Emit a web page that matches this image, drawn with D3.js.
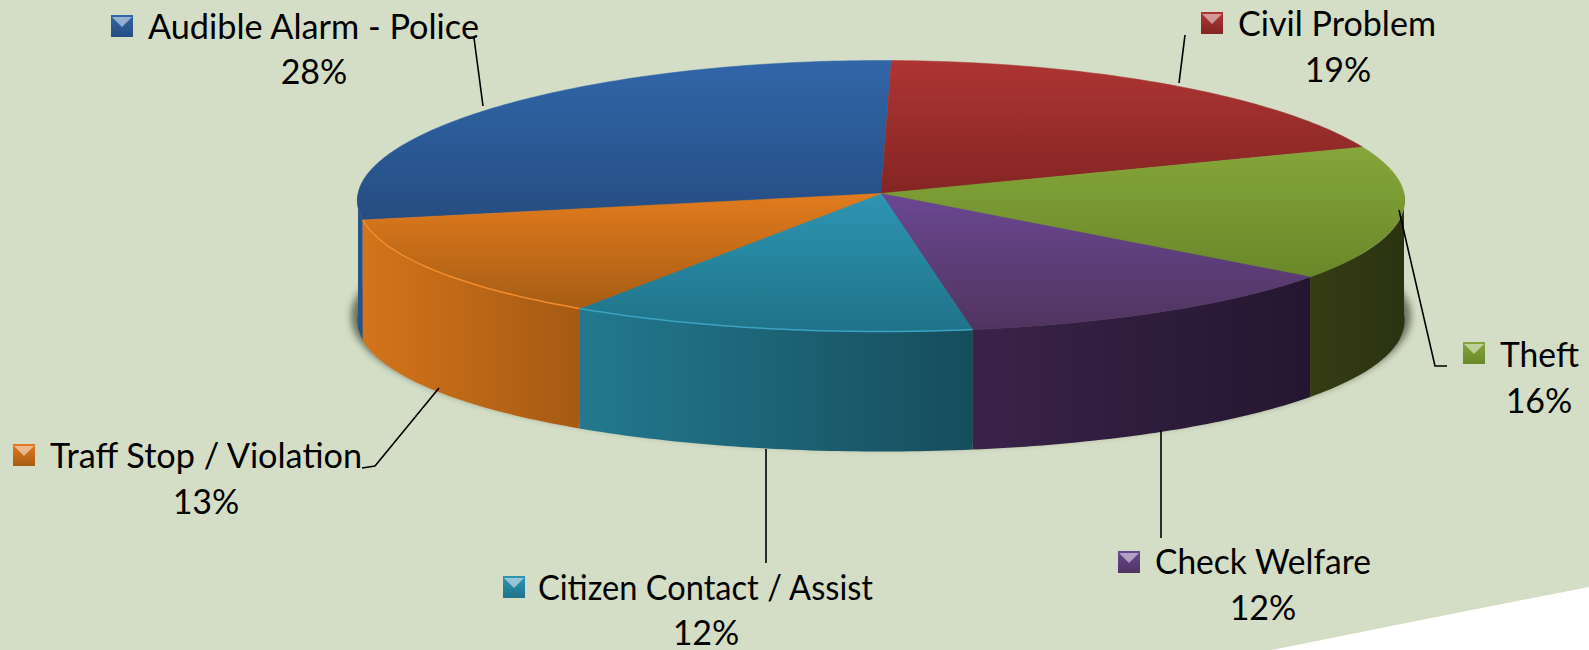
<!DOCTYPE html>
<html>
<head>
<meta charset="utf-8">
<script src="https://cdn.jsdelivr.net/npm/d3@7"></script>
<style>
  html, body { margin: 0; padding: 0; background: #d4ddc5; }
  svg { display: block; }
  text { font-family: Lato, sans-serif; font-size: 34px; fill: #000; }
</style>
</head>
<body>
<svg id="chart" width="1589" height="650"></svg>
<script>
const categories = ['Audible Alarm - Police', 'Civil Problem', 'Theft', 'Check Welfare', 'Citizen Contact / Assist', 'Traff Stop / Violation'];
// unrounded estimates, the labels show them rounded
const values = [28.4, 19, 16, 12, 12, 12.6];

const topColors = [['#3166a9', '#254d82'], ['#ad3533', '#842523'], ['#85a63a', '#6a8829'], ['#6b4792', '#50345f'], ['#2e95b2', '#1f7389'], ['#e27b1e', '#a65d14']];
const wallColors = [['#2b568c', '#27507f'], ['#842523', '#842523'], ['#363d14', '#2b3210'], ['#3a2349', '#241630'], ['#23798f', '#164d5c'], ['#d4741b', '#a55a13']];
const rimColors = ['none', 'none', 'none', 'none', '#3aa3c2', '#f28c2c'];

// where each label sits: swatch corner, text start and width, percent centre, leader line
const labelLayout = [
  { sx: 111, sy: 15, tx: 148, ty: 39, tw: 331, px: 314, py: 84, leader: [[474, 38], [483, 106]] },
  { sx: 1201, sy: 12, tx: 1238, ty: 36, tw: 198, px: 1338, py: 82, leader: [[1185, 35], [1179, 83]] },
  { sx: 1463, sy: 342, tx: 1500, ty: 367, tw: 79, px: 1539, py: 413, leader: [[1399, 210], [1435, 366], [1447, 366]] },
  { sx: 1118, sy: 551, tx: 1155, ty: 574, tw: 216, px: 1263, py: 620, leader: [[1161, 430], [1161, 538]] },
  { sx: 503, sy: 576, tx: 538, ty: 600, tw: 335, px: 706, py: 645, leader: [[766, 449], [766, 563]] },
  { sx: 13, sy: 444, tx: 50, ty: 468, tw: 312, px: 206, py: 514, leader: [[439, 388], [375, 466], [362, 468]] },
];

const cx = 881, cy = 193.5, rx = 523, ryBack = 133, ryFront = 138, depth = 120, persp = 0.05;
// first slice ends just past twelve o'clock, the next ones run clockwise from there
const firstSliceEnd = 1.2 * Math.PI / 180;
const startAngle = firstSliceEnd - values[0] / d3.sum(values) * 2 * Math.PI;

// tilted circle: the near side of the disc comes out a bit wider
function project(a, drop = 0) {
  const s = Math.sin(a), c = Math.cos(a);
  return [cx + rx * s * (1 - persp * c), cy - (c > 0 ? ryBack : ryFront) * c + drop];
}

function rimPoints(a0, a1, drop = 0) {
  const n = Math.max(2, Math.ceil((a1 - a0) * 60));
  return d3.range(n + 1).map((i) => project(a0 + (a1 - a0) * i / n, drop));
}

const svg = d3.select('#chart');
const line = d3.line();
const slices = d3.pie().sort(null).startAngle(startAngle).endAngle(startAngle + 2 * Math.PI)(values);

const defs = svg.append('defs');
defs.append('filter').attr('id', 'soft').attr('x', '-5%').attr('y', '-5%').attr('width', '110%').attr('height', '110%')
  .append('feGaussianBlur').attr('stdDeviation', 3.5);

function addGradient(id, colors, horizontal) {
  const g = defs.append('linearGradient').attr('id', id)
    .attr('x1', 0).attr('y1', 0).attr('x2', horizontal ? 1 : 0).attr('y2', horizontal ? 0 : 1);
  g.append('stop').attr('offset', 0).attr('stop-color', colors[0]);
  g.append('stop').attr('offset', 1).attr('stop-color', colors[1]);
}
categories.forEach((c, i) => {
  addGradient(`top${i}`, topColors[i], false);
  addGradient(`wall${i}`, wallColors[i], true);
});

// white swoosh of the slide, bottom right
svg.append('path')
  .attr('d', 'M1272,650 Q1430,618 1589,587 L1589,650 Z')
  .attr('fill', '#fff');

// shadow under the disc
svg.append('path')
  .attr('d', line(rimPoints(0, 2 * Math.PI, depth - 4)) + 'Z')
  .attr('transform', `translate(${cx},0) scale(1.012,1) translate(${-cx},0)`)
  .attr('fill', '#4a4f3e')
  .attr('opacity', 0.75)
  .attr('filter', 'url(#soft)');

// side walls, only the part of each slice facing the viewer
const front0 = Math.PI / 2, front1 = Math.PI * 1.5;
slices.forEach((d, i) => {
  [[d.startAngle, d.endAngle], [d.startAngle + 2 * Math.PI, d.endAngle + 2 * Math.PI]].forEach(([s, e]) => {
    const a0 = Math.max(s, front0), a1 = Math.min(e, front1);
    if (a1 <= a0) return;
    const pts = rimPoints(a0, a1).concat(rimPoints(a0, a1, depth).reverse());
    svg.append('path').attr('d', line(pts) + 'Z').attr('fill', `url(#wall${i})`);
  });
});

// top faces
slices.forEach((d, i) => {
  const pts = [[cx, cy]].concat(rimPoints(d.startAngle, d.endAngle));
  svg.append('path')
    .attr('d', line(pts) + 'Z')
    .attr('fill', `url(#top${i})`)
    .attr('stroke', `url(#top${i})`)
    .attr('stroke-width', 0.5);
  if (rimColors[i] !== 'none') {
    svg.append('path')
      .attr('d', line(rimPoints(d.startAngle, d.endAngle)))
      .attr('fill', 'none')
      .attr('stroke', rimColors[i])
      .attr('stroke-width', 1.5);
  }
});

// labels
const percent = d3.format('.0f');
const swatchSize = 22;
const labels = svg.selectAll('g.label').data(categories).enter().append('g').attr('class', 'label');

labels.append('path')
  .attr('d', (d, i) => line(labelLayout[i].leader))
  .attr('fill', 'none')
  .attr('stroke', '#000')
  .attr('stroke-width', 1.6);

labels.append('rect')
  .attr('x', (d, i) => labelLayout[i].sx)
  .attr('y', (d, i) => labelLayout[i].sy)
  .attr('width', swatchSize)
  .attr('height', swatchSize)
  .attr('fill', (d, i) => `url(#top${i})`);

// bevel on the swatch, a lit triangle coming down from the top edge
labels.append('path')
  .attr('d', (d, i) => {
    const { sx, sy } = labelLayout[i];
    return line([[sx + 1, sy + 2], [sx + swatchSize - 1, sy + 2], [sx + swatchSize / 2, sy + swatchSize / 2 + 1]]) + 'Z';
  })
  .attr('fill', '#fff')
  .attr('opacity', 0.5);

labels.append('text')
  .attr('x', (d, i) => labelLayout[i].tx)
  .attr('y', (d, i) => labelLayout[i].ty)
  .attr('textLength', (d, i) => labelLayout[i].tw)
  .attr('lengthAdjust', 'spacingAndGlyphs')
  .text((d) => d);

labels.append('text')
  .attr('x', (d, i) => labelLayout[i].px)
  .attr('y', (d, i) => labelLayout[i].py)
  .attr('text-anchor', 'middle')
  .text((d, i) => `${percent(values[i])}%`);
</script>
</body>
</html>
